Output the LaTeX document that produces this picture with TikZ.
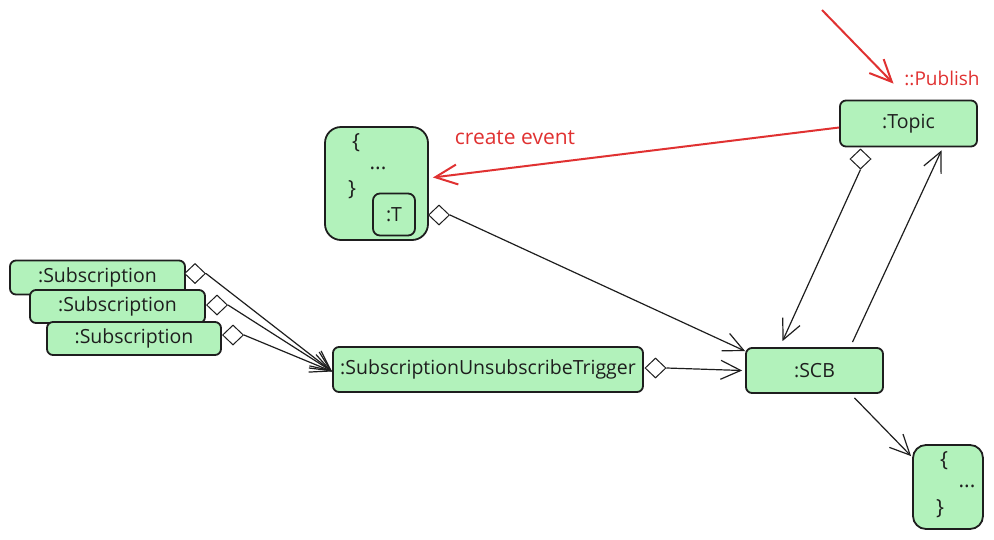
\documentclass[tikz,border=0pt]{standalone}
\usepackage{fontspec}
\setmainfont{Open Sans}
\usetikzlibrary{arrows.meta,shapes.geometric}
\definecolor{boxfill}{HTML}{B2F2BB}
\definecolor{ink}{HTML}{1E1E1E}
\definecolor{redink}{HTML}{E03131}
\tikzset{
  obj/.style={draw=ink, fill=boxfill, line width=1.8pt, rounded corners=6pt, font=\fontsize{19.5}{21}\selectfont, text=ink, inner sep=0pt},
  blk/.style={draw=ink, fill=boxfill, line width=1.8pt, rounded corners=16pt, inner sep=0pt},
  agg/.style={draw=ink, fill=white, shape=diamond, line width=1pt, minimum width=21pt, minimum height=20pt, inner sep=0pt},
  conn/.style={draw=ink, line width=1.2pt, -{Straight Barb[length=20pt,width=19pt,line width=1.2pt]}},
  redconn/.style={draw=redink, line width=2pt, -{Straight Barb[length=22pt,width=20pt,line width=2pt]}},
  txt/.style={font=\fontsize{21}{23}\selectfont, text=ink, inner sep=0pt},
  redtxt/.style={font=\fontsize{20}{22}\selectfont, text=redink, inner sep=0pt},
}
\begin{document}
\begin{tikzpicture}[x=1pt,y=-1pt]
\useasboundingbox (0,0) rectangle (994,539);
% event block
\node[blk, minimum width=103pt, minimum height=113pt] (ev) at (376.5,183.5) {};
\node[txt] (ev1) at (356,143) {\{};
\node[txt] (ev2) at (378,168) {...};
\node[txt] (ev3) at (352,190) {\}};
\node[obj, rounded corners=7pt, minimum width=42pt, minimum height=42pt] (evT) at (394,214.5) {:T};
\node[agg] (evd) at (439,215) {};
% topic
\node[obj, minimum width=137pt, minimum height=46pt] (topic) at (908.5,123.5) {:Topic};
\node[agg] (topd) at (860.5,159) {};
\node[redtxt, font=\fontsize{19}{21}\selectfont] (pub) at (942,78) {::Publish};
\coordinate (pubstart) at (822,10);
% subscriptions
\node[obj, minimum width=175pt, minimum height=34pt] (s1) at (97.5,277.5) {:Subscription};
\node[obj, minimum width=175pt, minimum height=33pt] (s2) at (117.5,306.5) {:Subscription};
\node[obj, minimum width=174pt, minimum height=33pt] (s3) at (134,338.5) {:Subscription};
\node[agg] (s1d) at (195,273.5) {};
\node[agg] (s2d) at (217,305) {};
\node[agg] (s3d) at (233,335) {};
% trigger
\node[obj, minimum width=310pt, minimum height=45pt] (trig) at (488,369.5) {:SubscriptionUnsubscribeTrigger};
\node[agg] (trigd) at (655.5,368) {};
% SCB
\node[obj, minimum width=137pt, minimum height=45pt] (scb) at (814.5,370.5) {:SCB};
% bottom block
\node[blk, rounded corners=13pt, minimum width=70pt, minimum height=84pt] (bb) at (948,487) {};
\node[txt] (bb1) at (944,461) {\{};
\node[txt] (bb2) at (967,486) {...};
\node[txt] (bb3) at (940,509) {\}};
% connectors
\draw[redconn] (pubstart) -- ([xshift=-15pt,yshift=16pt]topic.north);
\draw[redconn] ([yshift=-4pt]topic.west) -- ([yshift=6pt,xshift=4pt]ev.east);
\node[redtxt, font=\fontsize{21}{23}\selectfont] (ce) at (515,138) {create event};
\draw[conn] (s1d.east) -- ([yshift=-2pt]trig.west);
\draw[conn] (s2d.east) -- ([yshift=-2pt]trig.west);
\draw[conn] (s3d.east) -- ([yshift=-2pt]trig.west);
\draw[conn] (evd.east) -- ([yshift=-4pt]scb.north west);
\draw[conn] (trigd.east) -- ([xshift=-3pt]scb.west);
\draw[conn] (topd.south) -- ([xshift=-32pt,yshift=6pt]scb.north);
\draw[conn] ([xshift=38pt,yshift=5pt]scb.north) -- ([xshift=33pt,yshift=-3pt]topic.south);
\draw[conn] ([xshift=40pt,yshift=-4pt]scb.south) -- ([yshift=-12pt,xshift=-1pt]bb.north west);
\end{tikzpicture}
\end{document}
